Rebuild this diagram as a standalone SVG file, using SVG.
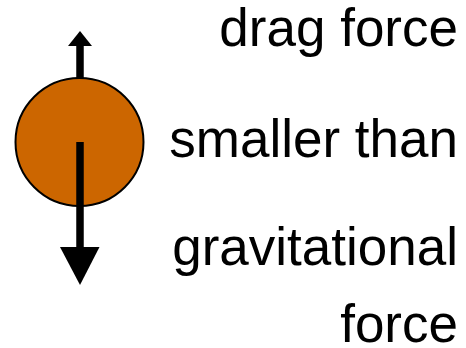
<svg xmlns="http://www.w3.org/2000/svg" width="466" height="348" viewBox="0 0 466 348">
<style>
text{font-family:"Liberation Sans",Arial,sans-serif;font-size:53px;fill:#000;text-anchor:end}
</style>
<rect width="466" height="348" fill="#fff"/>
<g id="ball"><circle cx="79.5" cy="142" r="64" fill="#cc6600" stroke="#000" stroke-width="2"/></g>
<g id="connectors">
<line x1="80" y1="78" x2="80" y2="45" stroke="#000" stroke-width="7.5"/>
<polygon points="68,46 92,46 80,31" fill="#000"/>
<line x1="80" y1="142" x2="80" y2="248" stroke="#000" stroke-width="7.5"/>
<polygon points="60,247 99.5,247 80,285" fill="#000"/>
</g>
<g id="labels">
<text x="458" y="46">drag force</text>
<text x="458" y="157">smaller than</text>
<text x="458" y="265">gravitational</text>
<text x="458" y="342">force</text>
</g>
</svg>
